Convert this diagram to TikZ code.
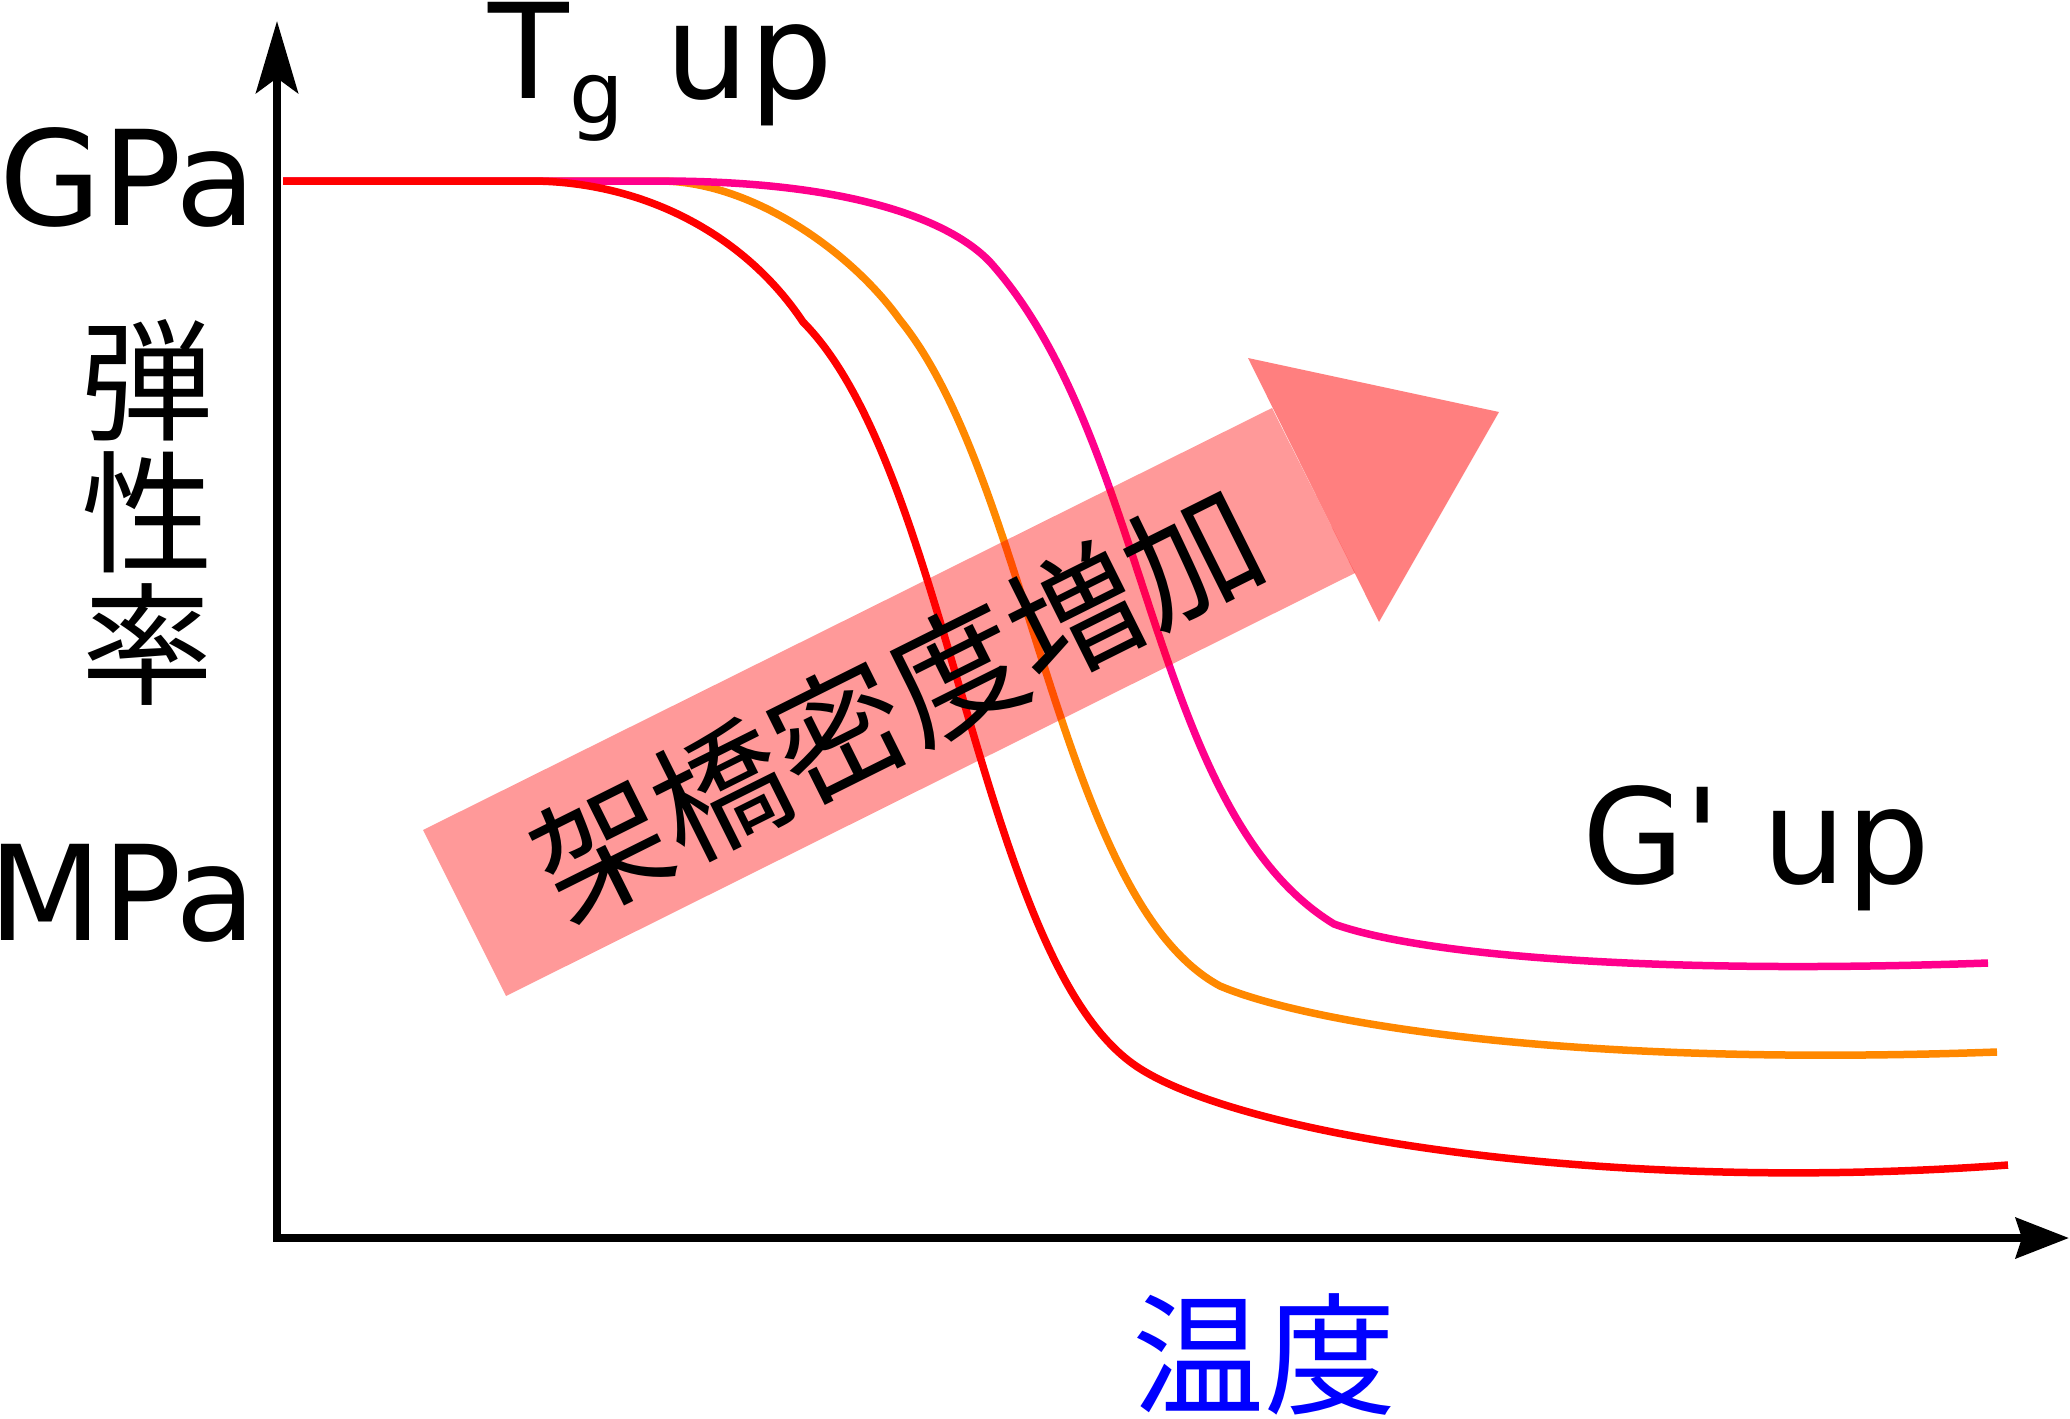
\documentclass[tikz,border=0pt]{standalone}
\usepackage{fontspec}
\usepackage{tikz}
\usetikzlibrary{arrows.meta}
\newfontfamily\lblfont{DejaVu Sans}
\newfontfamily\jpfont{Noto Sans CJK JP}
\definecolor{curvered}{RGB}{255,0,0}
\definecolor{curveorange}{RGB}{255,136,0}
\definecolor{curvepink}{RGB}{255,0,140}
\definecolor{labelblue}{RGB}{0,0,255}
\tikzset{
  axisline/.style={line width=4.25pt},
  curve/.style={line width=3.75pt},
  bigtext/.style={inner sep=0pt, font=\lblfont\fontsize{66pt}{66pt}\selectfont},
  jptext/.style={inner sep=0pt, align=center, font=\jpfont\fontsize{66pt}{66pt}\selectfont}
}

\begin{document}
\begin{tikzpicture}[x=0.5pt,y=-0.5pt]
\useasboundingbox (0,0) rectangle (2070,1418);
\coordinate (O) at (277,1238);
\coordinate (ytip) at (277,21);
\coordinate (xtip) at (2069,1238);
\draw[axisline, {Stealth[length=36pt,width=21pt,inset=7.5pt]}-{Stealth[length=26.5pt,width=20pt,inset=3pt]}] (ytip) -- (O) -- (xtip);
\draw[curve, curveorange] (283,181) -- (660,181)
  .. controls (750,181) and (850,250) .. (900,320)
  .. controls (1030,480) and (1060,900) .. (1220,986)
  .. controls (1300,1020) and (1550,1068) .. (1997,1052);
\draw[curve, curvepink] (283,181) -- (660,181)
  .. controls (850,181) and (950,220) .. (990,262)
  .. controls (1150,440) and (1150,812) .. (1334,924)
  .. controls (1420,955) and (1650,975) .. (1988,963);
\draw[curve, curvered] (283,181) -- (530,181)
  .. controls (640,181) and (743,232) .. (803,322)
  .. controls (950,470) and (980,960) .. (1136,1066)
  .. controls (1236,1134) and (1600,1195) .. (2008,1165);
\fill[red, opacity=0.4] (423,830) -- (1272,408) -- (1355,573) -- (506,996) -- cycle;
\fill[red, opacity=0.5] (1248,358) -- (1499,412) -- (1379,622) -- cycle;
\node[jptext, rotate=26.5] (crosslink) at (897,702) {架橋密度増加};
\node[bigtext, anchor=base east] (gpa) at (257,225) {GPa};
\node[bigtext, anchor=base east] (mpa) at (257,940) {MPa};
\node[jptext] (modulus) at (147,512) {弾\\性\\率};
\node[jptext, text=labelblue] (temp) at (1264,1354) {温度};
\node[bigtext, anchor=base west] (tg) at (488,98) {T\raisebox{-13pt}{\fontsize{43pt}{43pt}\selectfont g} up};
\node[bigtext, anchor=base west] (gup) at (1582,883) {G' up};
\end{tikzpicture}
\end{document}
